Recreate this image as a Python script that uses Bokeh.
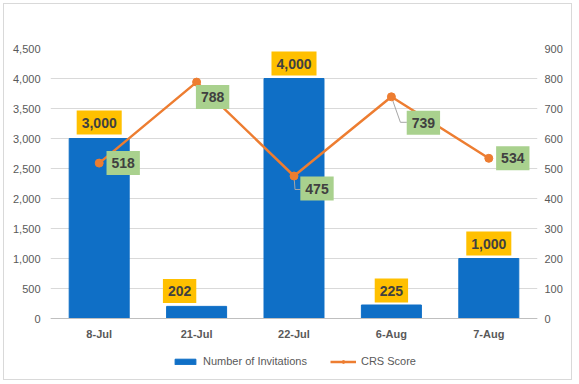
from bokeh.plotting import figure
from bokeh.models import (FactorRange, Range1d, LinearAxis, FixedTicker,
                          NumeralTickFormatter, ColumnDataSource, Legend, LegendItem)
from bokeh.core.properties import value
from bokeh.embed import file_html
from bokeh.resources import INLINE

# ---- data ----
dates = ["8-Jul", "21-Jul", "22-Jul", "6-Aug", "7-Aug"]
invitations = [3000, 202, 4000, 225, 1000]
crs_scores = [518, 788, 475, 739, 534]
left_ticks = [0, 500, 1000, 1500, 2000, 2500, 3000, 3500, 4000, 4500]
right_ticks = [0, 100, 200, 300, 400, 500, 600, 700, 800, 900]

# ---- style ----
BLUE = "#0F6FC6"
ORANGE = "#ED7D31"
GOLD = "#FFC000"
GREEN = "#A9D18E"
TXT = "#404040"
AX = "#595959"
GRID = "#D9D9D9"
FONT = "Liberation Sans"

# label offsets in screen px (x right, y down)
bar_dx = [0, -17, 0, 0, 0]
bar_dy = [-16, -15.5, -15, -14.5, -15]
crs_dx = [24, 16, 23, 32, 24]
crs_dy = [0, 15, 12.5, 26, 0]

src = ColumnDataSource(dict(
    date=dates, inv=invitations, crs=crs_scores,
    inv_lbl=[f"{v:,}" for v in invitations],
    crs_lbl=[str(v) for v in crs_scores],
    bar_dx=bar_dx, bar_dy=bar_dy, crs_dx=crs_dx, crs_dy=crs_dy,
))

# frame extends below zero so the legend can sit inside it
p = figure(width=569, height=377,
           x_range=FactorRange(factors=dates),
           y_range=Range1d(-1000, 4500),
           output_backend="svg", toolbar_location=None,
           min_border_left=46, min_border_right=36,
           min_border_top=44, min_border_bottom=3)
p.styles = {"position": "absolute", "left": "3px", "top": "3px",
            "border": "1px solid #D9D9D9"}
p.extra_y_ranges = {"crs": Range1d(-200, 900)}
p.outline_line_color = None
p.background_fill_color = "white"
p.border_fill_color = "white"

# axes
p.yaxis.ticker = FixedTicker(ticks=left_ticks)
p.yaxis.formatter = NumeralTickFormatter(format="0,0")
ra = LinearAxis(y_range_name="crs", ticker=FixedTicker(ticks=right_ticks))
p.add_layout(ra, "right")
xa = p.xaxis[0]
xa.fixed_location = 0
for ax in [p.yaxis[0], ra, xa]:
    ax.major_tick_line_color = None
    ax.minor_tick_line_color = None
    ax.major_label_text_color = AX
    ax.major_label_text_font = FONT
    ax.major_label_text_font_size = "11px"
p.yaxis[0].axis_line_color = None
ra.axis_line_color = None
p.yaxis[0].major_label_standoff = 4
ra.major_label_standoff = 1

xa.axis_line_color = "#BFBFBF"
xa.axis_line_width = 1
xa.major_label_text_font_style = "bold"
xa.major_label_standoff = 3

p.xgrid.grid_line_color = None
p.ygrid.ticker = FixedTicker(ticks=left_ticks)
p.ygrid.grid_line_color = GRID

# bars
bars = p.vbar(x="date", top="inv", width=0.616, color=BLUE, source=src)

# leader lines (from point to label box)
lead_idx = [2, 3]
lead_px = {2: [(0, 0), (1, 13.5), (6.5, 13.5)], 3: [(0, 0), (9, 25.5), (15.5, 25.5)]}
xs, ys = [], []
for i in lead_idx:
    xs.append([i + 0.5 + dx / 97.4 for dx, dy in lead_px[i]])
    ys.append([crs_scores[i] - dy / 0.3 for dx, dy in lead_px[i]])
p.multi_line(xs=xs, ys=ys, y_range_name="crs", line_color="#A6A6A6", line_width=1)

# line
line = p.line(x="date", y="crs", y_range_name="crs", line_color=ORANGE,
              line_width=2.5, source=src)
pts = p.scatter(x="date", y="crs", y_range_name="crs", size=8, color=ORANGE, source=src)

# labels
pad = dict(left=5, right=5, top=7, bottom=7)
p.text(x="date", y="inv", text="inv_lbl", x_offset="bar_dx", y_offset="bar_dy",
       text_align="center", text_baseline="middle", text_font=value(FONT),
       text_font_size="14px", text_font_style="bold", text_color=TXT,
       background_fill_color=GOLD, padding=pad, source=src)
p.text(x="date", y="crs", text="crs_lbl", x_offset="crs_dx", y_offset="crs_dy",
       y_range_name="crs",
       text_align="center", text_baseline="middle", text_font=value(FONT),
       text_font_size="14px", text_font_style="bold", text_color=TXT,
       background_fill_color=GREEN, padding=pad, source=src)

legend = Legend(items=[LegendItem(label="Number of Invitations", renderers=[bars]),
                       LegendItem(label="CRS Score", renderers=[line, pts])],
                orientation="horizontal", location=(122, 11),
                border_line_color=None, background_fill_alpha=0,
                padding=0, margin=0, spacing=23, label_standoff=5,
                glyph_width=26, glyph_height=7, label_height=12,
                label_text_font_size="11px", label_text_color=AX,
                label_text_font=FONT)
p.add_layout(legend, "center")

open("out.html", "w").write(file_html(p, INLINE))
